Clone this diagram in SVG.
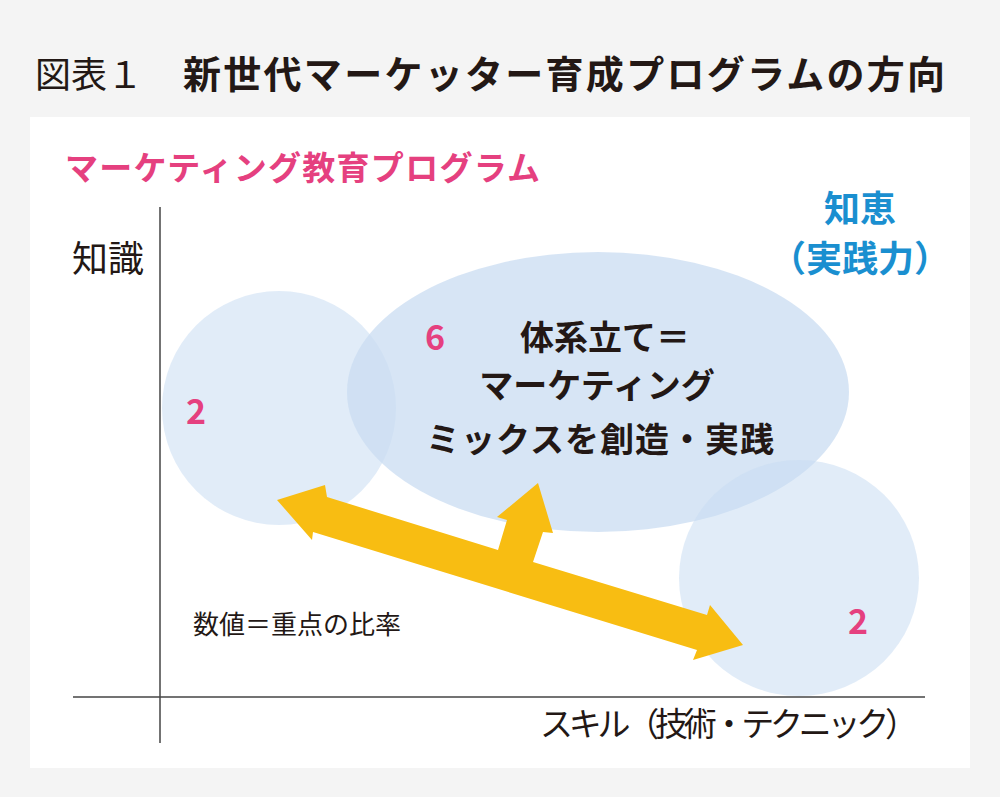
<svg xmlns="http://www.w3.org/2000/svg" width="1000" height="797" viewBox="0 0 1000 797">
<style>
text{font-family:"Noto Sans CJK JP","Noto Sans",sans-serif;fill:#231815}
.b{font-weight:bold}
.pk{fill:#e5407f;font-weight:bold}
.bl{fill:#1a8fd0;font-weight:bold}
.c{fill:#c9dcf2;fill-opacity:0.55}
</style>
<rect width="1000" height="797" fill="#f4f4f4"/>
<text x="35" y="88" font-size="36">図表１</text>
<text x="183" y="88" font-size="38" class="b" textLength="762">新世代マーケッター育成プログラムの方向</text>
<rect x="30" y="117" width="940" height="651" fill="#fff"/>
<g id="nodes">
<g id="left"><circle class="c" cx="279" cy="408" r="117"/><text x="196" y="424" font-size="34" class="pk" text-anchor="middle">2</text></g>
<g id="center"><ellipse class="c" cx="598" cy="392" rx="251" ry="140" style="fill-opacity:0.75"/>
<text x="435" y="350" font-size="34" class="pk" text-anchor="middle">6</text>
<text x="605" y="350" font-size="34" class="b" text-anchor="middle">体系立て＝</text>
<text x="597" y="398" font-size="34" class="b" text-anchor="middle">マーケティング</text>
<text x="600" y="452" font-size="34" class="b" text-anchor="middle" textLength="348">ミックスを創造・実践</text></g>
<g id="right"><ellipse class="c" cx="799" cy="578" rx="120" ry="118"/><text x="858" y="634" font-size="34" class="pk" text-anchor="middle">2</text></g>
</g>
<g id="connectors">
<line x1="160" y1="207" x2="160" y2="743" stroke="#444" stroke-width="1.5"/>
<line x1="73" y1="697" x2="925" y2="697" stroke="#444" stroke-width="1.5"/>
<polygon fill="#f8bd12" points="277,500 325,485 327,497 498,550 507,520 497,517 538,483 553,533 543,532 533,562 707,615 710,605 743,645 693,660 697,650 313,532 312,540"/>
</g>
<text x="65" y="180" font-size="33" class="pk" textLength="475">マーケティング教育プログラム</text>
<text x="72" y="272" font-size="36">知識</text>
<text x="860" y="222" font-size="36" class="bl" text-anchor="middle">知恵</text>
<text x="860" y="272" font-size="36" class="bl" text-anchor="middle">（実践力）</text>
<text x="193" y="634" font-size="26">数値＝重点の比率</text>
<text x="540" y="736" font-size="33" textLength="378">スキル（技術・テクニック）</text>
</svg>
